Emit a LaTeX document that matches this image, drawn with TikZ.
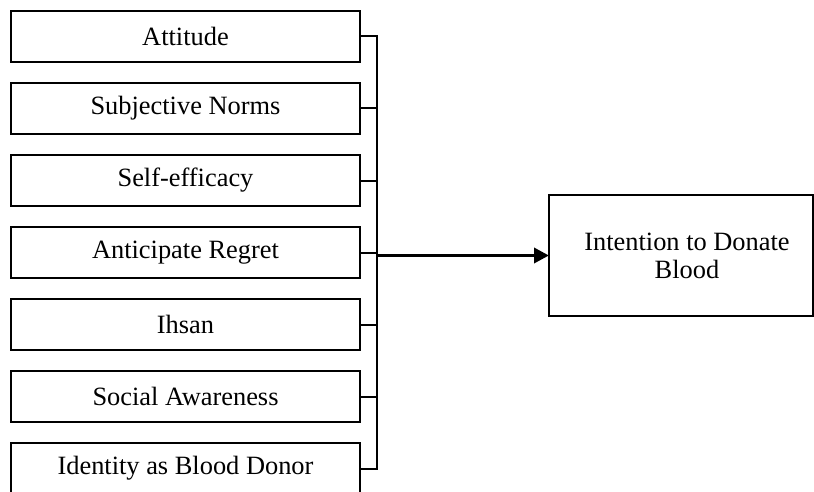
\documentclass[tikz,border=0pt]{standalone}
\usepackage{fontspec}
\setmainfont{Liberation Serif}
\usetikzlibrary{positioning,arrows.meta}

\begin{document}
\begin{tikzpicture}[
    x=1pt, y=-1pt,
    factor/.style={rectangle, draw, line width=2pt, outer sep=0pt, minimum width=349pt, minimum height=51pt, align=center, font=\fontsize{26.4}{28}\selectfont},
    outcome/.style={rectangle, draw, line width=2pt, outer sep=0pt, minimum width=264pt, minimum height=121pt, align=center, font=\fontsize{26.4}{28}\selectfont},
    link/.style={draw, line width=2pt},
    arrow/.style={draw, line width=3.5pt, -{Triangle[length=15pt,width=15pt]}}
]
\useasboundingbox (0,0) rectangle (814,492);
\node[factor] (att) at (185.5,36.5) {Attitude};
\node[factor, below=21pt of att] (sn) {Subjective Norms};
\node[factor, below=21pt of sn] (se) {Self-efficacy};
\node[factor, below=21pt of se] (ar) {Anticipate Regret};
\node[factor, below=21pt of ar] (ih) {Ihsan};
\node[factor, below=21pt of ih] (sa) {Social Awareness};
\node[factor, below=21pt of sa] (ibd) {Identity as Blood Donor};
\node[outcome] (itd) at (681,255.5) {\hspace*{12pt}Intention to Donate\\ \hspace*{12pt}Blood};
\coordinate (bus) at (377,0);
\draw[link] (att.east) -- (att.east -| bus) -- (ibd.east -| bus) -- (ibd.east);
\draw[link] (sn.east) -- (sn.east -| bus);
\draw[link] (se.east) -- (se.east -| bus);
\draw[link] (ar.east) -- (ar.east -| bus);
\draw[link] (ih.east) -- (ih.east -| bus);
\draw[link] (sa.east) -- (sa.east -| bus);
\draw[arrow] (itd.west -| bus) -- (itd.west);
\end{tikzpicture}
\end{document}
